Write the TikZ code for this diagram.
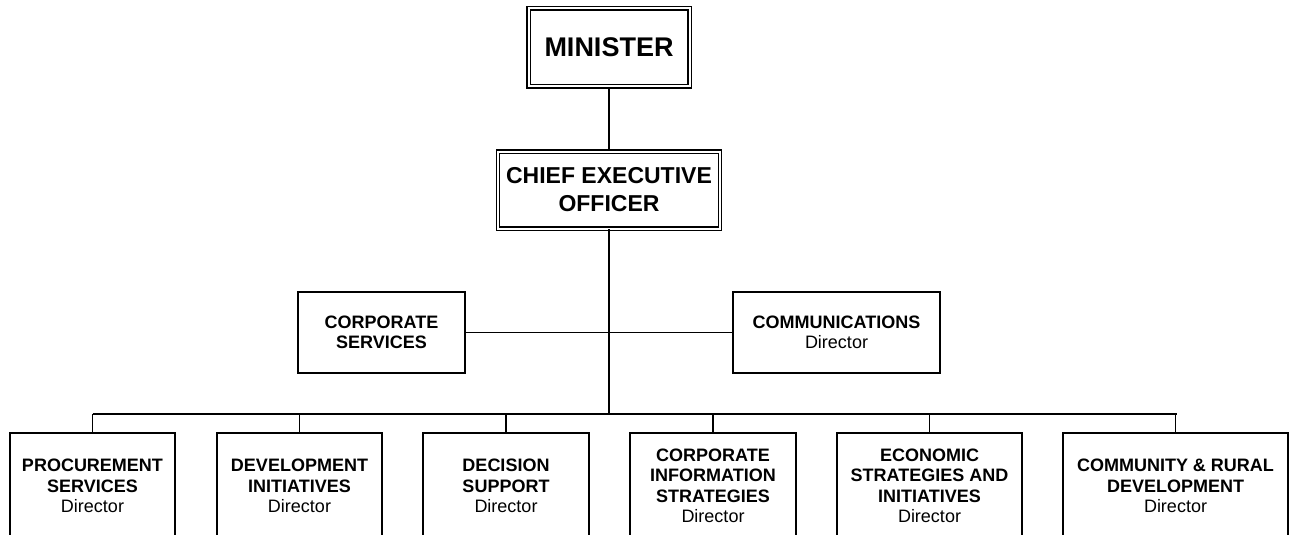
\documentclass[tikz,border=0pt]{standalone}
\usepackage{fontspec}
\setmainfont{Liberation Sans}
\begin{document}
\begin{tikzpicture}[x=1pt,y=-1pt,
  line width=1.6pt,
  topbox/.style={draw, double, double distance=2pt, line width=1.4pt, inner sep=0pt, align=center, font=\bfseries},
  midbox/.style={draw, inner sep=0pt, align=center, minimum height=81pt, font=\fontsize{18}{20.5}\selectfont},
  lowbox/.style={draw, inner sep=0pt, align=center, minimum height=106pt, font=\fontsize{18}{20.5}\selectfont},
  conn/.style={line width=1.6pt}]
\clip (0,0) rectangle (1291,535);
\node[topbox, minimum width=161pt, minimum height=78pt, font=\fontsize{27}{32}\selectfont\bfseries] (min) at (609,47.5) {MINISTER};
\node[topbox, minimum width=222pt, minimum height=77pt, font=\fontsize{23}{28}\selectfont\bfseries] (ceo) at (609,190) {CHIEF EXECUTIVE\\OFFICER};
\node[midbox, minimum width=167pt] (corp) at (381.5,332.5) {\textbf{CORPORATE}\\\textbf{SERVICES}};
\node[midbox, minimum width=207pt] (comm) at (836.5,332.5) {\textbf{COMMUNICATIONS}\\Director};
\coordinate (bus) at (609,414);
\coordinate (busl) at (92.5,414);
\coordinate (busr) at (1177,414);
\node[lowbox, minimum width=165pt] (b1) at (92.5,486) {\textbf{PROCUREMENT}\\\textbf{SERVICES}\\Director};
\node[lowbox, minimum width=165pt] (b2) at (299.5,486) {\textbf{DEVELOPMENT}\\\textbf{INITIATIVES}\\Director};
\node[lowbox, minimum width=166pt] (b3) at (506,486) {\textbf{DECISION}\\\textbf{SUPPORT}\\Director};
\node[lowbox, minimum width=166pt] (b4) at (713,486) {\textbf{CORPORATE}\\\textbf{INFORMATION}\\\textbf{STRATEGIES}\\Director};
\node[lowbox, minimum width=185pt] (b5) at (929.5,486) {\textbf{ECONOMIC}\\\textbf{STRATEGIES AND}\\\textbf{INITIATIVES}\\Director};
\node[lowbox, minimum width=225pt] (b6) at (1175.5,486) {\textbf{COMMUNITY \& RURAL}\\\textbf{DEVELOPMENT}\\Director};
\draw[conn] (min.south) -- (ceo.north);
\draw[conn] (ceo.south) -- (bus);
\draw[conn] (corp.east) -- (comm.west);
\draw[conn] (busl) -- (busr);
\foreach \b in {b1,b2,b3,b4,b5,b6} \draw[conn] (\b.north) -- (\b.north |- bus);
\end{tikzpicture}
\end{document}
